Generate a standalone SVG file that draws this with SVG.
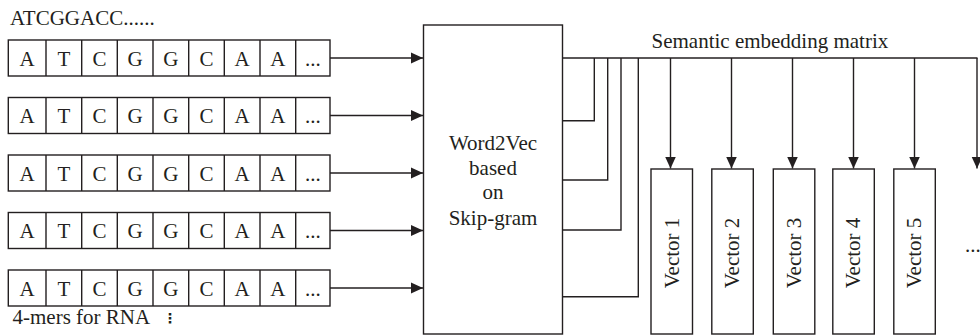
<svg xmlns="http://www.w3.org/2000/svg" width="980" height="336" viewBox="0 0 980 336">
<style>
  text { font-family: "Liberation Serif", "DejaVu Serif", serif; font-size: 21px; fill: #231f20; }
  .c { text-anchor: middle; }
  .box { fill: #ffffff; stroke: #231f20; stroke-width: 1.4; }
  .ln { fill: none; stroke: #231f20; stroke-width: 1.4; }
</style>
<defs>
  <marker id="arr" markerUnits="userSpaceOnUse" markerWidth="12" markerHeight="12" viewBox="0 0 12 12" refX="12" refY="6" orient="auto">
    <path d="M0,0.5 L12,6 L0,11.5 Z" fill="#231f20"/>
  </marker>
  <g id="seq">
    <rect class="box" x="8.3" y="0" width="321.7" height="36"/>
    <path class="ln" d="M46,0V36M81.7,0V36M117.3,0V36M153,0V36M188.7,0V36M224.3,0V36M260,0V36M295.7,0V36"/>
    <text class="c" x="27.2" y="25.5">A</text>
    <text class="c" x="63.9" y="25.5">T</text>
    <text class="c" x="99.5" y="25.5">C</text>
    <text class="c" x="135.2" y="25.5">G</text>
    <text class="c" x="170.9" y="25.5">G</text>
    <text class="c" x="206.5" y="25.5">C</text>
    <text class="c" x="242.2" y="25.5">A</text>
    <text class="c" x="277.9" y="25.5">A</text>
    <text class="c" x="312.9" y="25.5">...</text>
  </g>
</defs>

<text x="10" y="25">ATCGGACC......</text>

<g id="seq1"><use href="#seq" transform="translate(0,40)"/></g>
<g id="seq2"><use href="#seq" transform="translate(0,97.5)"/></g>
<g id="seq3"><use href="#seq" transform="translate(0,155)"/></g>
<g id="seq4"><use href="#seq" transform="translate(0,212.5)"/></g>
<g id="seq5"><use href="#seq" transform="translate(0,270)"/></g>

<text x="12.5" y="324">4-mers for RNA</text>
<text x="170" y="323" class="c" style="font-family:'DejaVu Sans',sans-serif;font-size:14px;font-weight:bold">⋮</text>

<g id="word2vec">
  <rect class="box" x="423.5" y="25" width="139" height="309"/>
  <text class="c" x="493" y="150">Word2Vec</text>
  <text class="c" x="493" y="175">based</text>
  <text class="c" x="493" y="199">on</text>
  <text class="c" x="493" y="225">Skip-gram</text>
</g>

<text x="651.5" y="48">Semantic embedding matrix</text>

<g id="vector1"><rect class="box" x="651" y="169" width="41.5" height="165"/><text class="c" transform="translate(678.5,253) rotate(-90)">Vector 1</text></g>
<g id="vector2"><rect class="box" x="711.8" y="169" width="41.5" height="165"/><text class="c" transform="translate(739.3,253) rotate(-90)">Vector 2</text></g>
<g id="vector3"><rect class="box" x="773.3" y="169" width="41.5" height="165"/><text class="c" transform="translate(800.8,253) rotate(-90)">Vector 3</text></g>
<g id="vector4"><rect class="box" x="832.8" y="169" width="41.5" height="165"/><text class="c" transform="translate(860.3,253) rotate(-90)">Vector 4</text></g>
<g id="vector5"><rect class="box" x="893.8" y="169" width="41.5" height="165"/><text class="c" transform="translate(921.3,253) rotate(-90)">Vector 5</text></g>
<text x="965" y="252">...</text>

<g id="connectors">
  <line class="ln" x1="330" y1="58" x2="423" y2="58" marker-end="url(#arr)"/>
  <line class="ln" x1="330" y1="115.5" x2="423" y2="115.5" marker-end="url(#arr)"/>
  <line class="ln" x1="330" y1="173" x2="423" y2="173" marker-end="url(#arr)"/>
  <line class="ln" x1="330" y1="230.5" x2="423" y2="230.5" marker-end="url(#arr)"/>
  <line class="ln" x1="330" y1="288" x2="423" y2="288" marker-end="url(#arr)"/>

  <line class="ln" x1="562.5" y1="58" x2="977.5" y2="58"/>
  <polyline class="ln" points="562.5,120.7 594.3,120.7 594.3,58"/>
  <polyline class="ln" points="562.5,180 607.7,180 607.7,58"/>
  <polyline class="ln" points="562.5,230 621,230 621,58"/>
  <polyline class="ln" points="562.5,296.7 638.3,296.7 638.3,58"/>

  <line class="ln" x1="670.5" y1="58" x2="670.5" y2="168.5" marker-end="url(#arr)"/>
  <line class="ln" x1="731.5" y1="58" x2="731.5" y2="168.5" marker-end="url(#arr)"/>
  <line class="ln" x1="792.5" y1="58" x2="792.5" y2="168.5" marker-end="url(#arr)"/>
  <line class="ln" x1="853.5" y1="58" x2="853.5" y2="168.5" marker-end="url(#arr)"/>
  <line class="ln" x1="914.5" y1="58" x2="914.5" y2="168.5" marker-end="url(#arr)"/>
  <line class="ln" x1="977" y1="58" x2="977" y2="168.5" marker-end="url(#arr)"/>
</g>
</svg>
